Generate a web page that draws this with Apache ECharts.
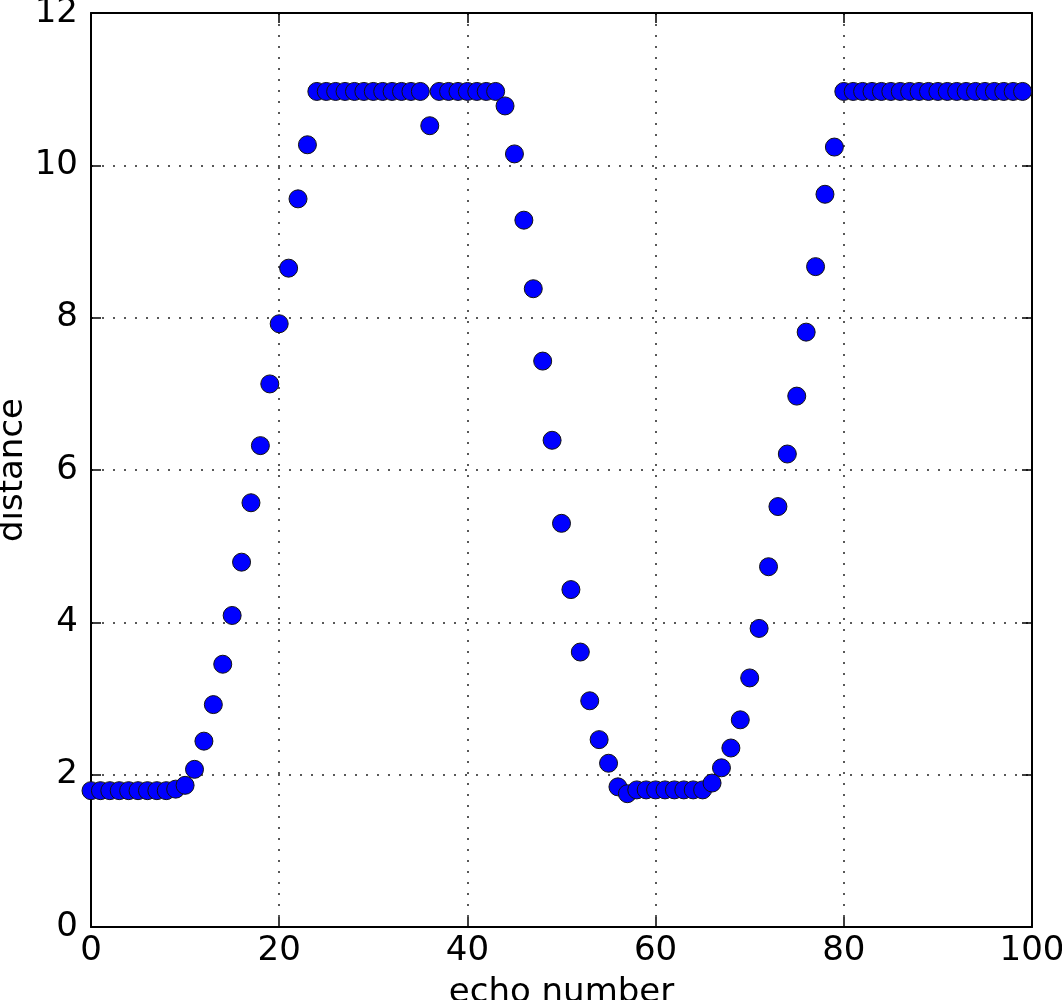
<!DOCTYPE html>
<html>
<head>
<meta charset="utf-8">
<script src="https://cdn.jsdelivr.net/npm/echarts@6/dist/echarts.min.js"></script>
<style>
  html, body { margin: 0; padding: 0; background: #fff; }
  #chart { width: 1062px; height: 1000px; }
</style>
</head>
<body>
<div id="chart"></div>
<script>
// echo index on x, measured distance on y
const echoNumbers = [
  0, 1, 2, 3, 4, 5, 6, 7, 8, 9,
  10, 11, 12, 13, 14, 15, 16, 17, 18, 19,
  20, 21, 22, 23, 24, 25, 26, 27, 28, 29,
  30, 31, 32, 33, 34, 35, 36, 37, 38, 39,
  40, 41, 42, 43, 44, 45, 46, 47, 48, 49,
  50, 51, 52, 53, 54, 55, 56, 57, 58, 59,
  60, 61, 62, 63, 64, 65, 66, 67, 68, 69,
  70, 71, 72, 73, 74, 75, 76, 77, 78, 79,
  80, 81, 82, 83, 84, 85, 86, 87, 88, 89,
  90, 91, 92, 93, 94, 95, 96, 97, 98, 99
]
const distances = [
  1.79, 1.79, 1.79, 1.79, 1.79, 1.79, 1.79, 1.79, 1.79, 1.81,
  1.86, 2.07, 2.44, 2.92, 3.45, 4.09, 4.79, 5.57, 6.32, 7.13,
  7.92, 8.65, 9.56, 10.27, 10.97, 10.97, 10.97, 10.97, 10.97, 10.97,
  10.97, 10.97, 10.97, 10.97, 10.97, 10.97, 10.52, 10.97, 10.97, 10.97,
  10.97, 10.97, 10.97, 10.97, 10.78, 10.15, 9.28, 8.38, 7.43, 6.39,
  5.30, 4.43, 3.61, 2.97, 2.46, 2.15, 1.84, 1.75, 1.80, 1.80,
  1.80, 1.80, 1.80, 1.80, 1.80, 1.80, 1.89, 2.09, 2.35, 2.72,
  3.27, 3.92, 4.73, 5.52, 6.21, 6.97, 7.81, 8.67, 9.62, 10.24,
  10.97, 10.97, 10.97, 10.97, 10.97, 10.97, 10.97, 10.97, 10.97, 10.97,
  10.97, 10.97, 10.97, 10.97, 10.97, 10.97, 10.97, 10.97, 10.97, 10.97
]
const xTicks = [0, 20, 40, 60, 80, 100]
const yTicks = [0, 2, 4, 6, 8, 10, 12]

const font = 'DejaVu Sans'
const fontSize = 34
const lineCol = '#000'

const chart = echarts.init(document.getElementById('chart'))

// shared look for the frame axes (matplotlib-style box with inward ticks)
const frameAxis = {
  axisLine: { show: true, onZero: false, lineStyle: { color: lineCol, width: 2 } },
  axisTick: { show: true, inside: true, length: 10, lineStyle: { color: lineCol, width: 1.5 } },
  splitLine: { show: false },
  axisLabel: { show: false }
}

chart.setOption({
  animation: false,
  grid: { left: 91, right: 30, top: 13, bottom: 73, outerBoundsMode: 'none' },
  xAxis: [
    {
      type: 'value',
      min: xTicks[0],
      max: xTicks[xTicks.length - 1],
      interval: 20,
      name: 'echo number',
      nameLocation: 'middle',
      nameGap: 49,
      nameMoveOverlap: false,
      nameTextStyle: { fontFamily: font, fontSize: fontSize, color: lineCol },
      axisLine: { show: true, onZero: false, lineStyle: { color: lineCol, width: 2 } },
      axisTick: { show: true, inside: true, length: 10, lineStyle: { color: lineCol, width: 1.5 } },
      axisLabel: { fontFamily: font, fontSize: fontSize, color: lineCol, margin: 7 },
      splitLine: { show: true, lineStyle: { type: [2, 9], color: '#222', width: 1.5 } }
    },
    Object.assign({
      type: 'value', position: 'top',
      min: xTicks[0], max: xTicks[xTicks.length - 1], interval: 20
    }, frameAxis)
  ],
  yAxis: [
    {
      type: 'value',
      min: yTicks[0],
      max: yTicks[yTicks.length - 1],
      interval: 2,
      name: 'distance',
      nameLocation: 'middle',
      nameGap: 61,
      nameMoveOverlap: false,
      nameTextStyle: { fontFamily: font, fontSize: fontSize, color: lineCol },
      axisLine: { show: true, onZero: false, lineStyle: { color: lineCol, width: 2 } },
      axisTick: { show: true, inside: true, length: 10, lineStyle: { color: lineCol, width: 1.5 } },
      axisLabel: { fontFamily: font, fontSize: fontSize, color: lineCol, margin: 13 },
      splitLine: { show: true, lineStyle: { type: [2, 9], color: '#222', width: 1.5 } }
    },
    Object.assign({
      type: 'value', position: 'right',
      min: yTicks[0], max: yTicks[yTicks.length - 1], interval: 2
    }, frameAxis)
  ],
  series: [{
    type: 'scatter',
    data: echoNumbers.map((x, i) => [x, distances[i]]),
    symbol: 'circle',
    symbolSize: 18,
    itemStyle: { color: '#0000ff', borderColor: '#111', borderWidth: 1, opacity: 1 },
    z: 3
  }]
})
</script>
</body>
</html>
